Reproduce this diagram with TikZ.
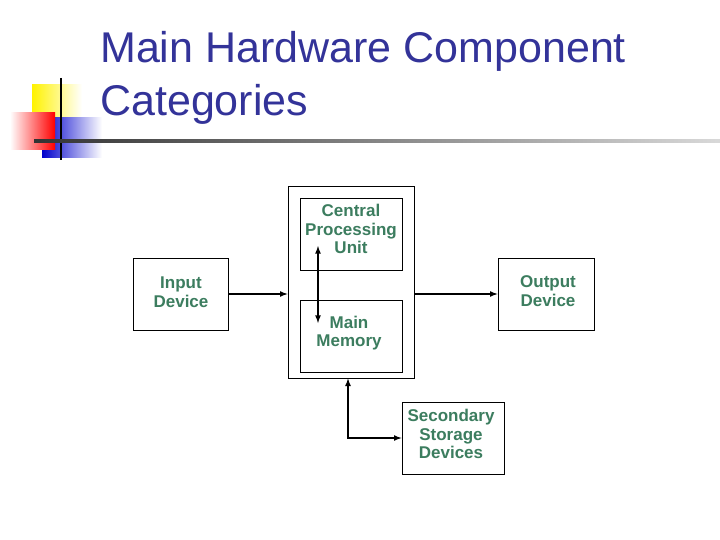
\documentclass[tikz,border=0pt]{standalone}
\usepackage{fontspec}
\setmainfont{Liberation Sans}
\begin{document}
\begin{tikzpicture}[x=1pt,y=-1pt,
  arr/.style={line width=1.6pt,-latex},
  bx/.style={draw,line width=0.8pt,inner sep=0pt},
  lbl/.style={text=txt,font=\fontsize{17}{18.5}\selectfont\bfseries,align=center,inner sep=0pt}]
\definecolor{txt}{RGB}{60,125,95}
\definecolor{ttl}{RGB}{51,51,153}
\useasboundingbox (0,0) rectangle (720,540);
\fill[white] (0,0) rectangle (720,540);
% logo
\shade[left color=yellow!90!orange,right color=white] (32,85) rectangle (82,130);
\shade[left color=blue!80!black,right color=white] (42,118) rectangle (102,158);
\shade[left color=white,right color=red] (10,113) rectangle (55,150);
\draw[line width=1.2pt] (61,78) -- (61,160);
\shade[left color=black!80,right color=black!15] (34,140) rectangle (720,142.5);
\node[anchor=west,text=ttl,font=\fontsize{43}{53}\selectfont,align=left,inner sep=0pt] (title) at (100,78) {Main Hardware Component\\Categories};
% boxes
\node[bx,minimum width=126pt,minimum height=192pt] (outer) at (351,282) {};
\node[bx,minimum width=102pt,minimum height=72pt] (cpu) at (351,234) {};
\node[lbl] (cput) at (351,229) {Central\\Processing\\Unit};
\node[bx,minimum width=102pt,minimum height=72pt] (mem) at (351,336) {};
\node[lbl] (memt) at (349,333) {Main\\Memory};
\node[bx,minimum width=95pt,minimum height=72pt] (in) at (180.5,294) {};
\node[lbl] (int) at (181,292) {Input\\Device};
\node[bx,minimum width=96pt,minimum height=72pt] (out) at (546,294) {};
\node[lbl] (outt) at (548,291) {Output\\Device};
\node[bx,minimum width=102pt,minimum height=72pt] (sec) at (453,438) {};
\node[lbl] (sect) at (451,434) {Secondary\\Storage\\Devices};
% arrows
\coordinate (c1) at (318,246);
\coordinate (c2) at (318,323);
\coordinate (bend) at (348,438);
\draw[arr] (in.east) -- (in.east -| outer.west);
\draw[arr] (out.west -| outer.east) -- (out.west);
\draw[line width=1.6pt,latex-latex] (c1) -- (c2);
\draw[line width=1.6pt,latex-latex] (outer.south -| bend) -- (bend) -- (sec.west);
\end{tikzpicture}
\end{document}
